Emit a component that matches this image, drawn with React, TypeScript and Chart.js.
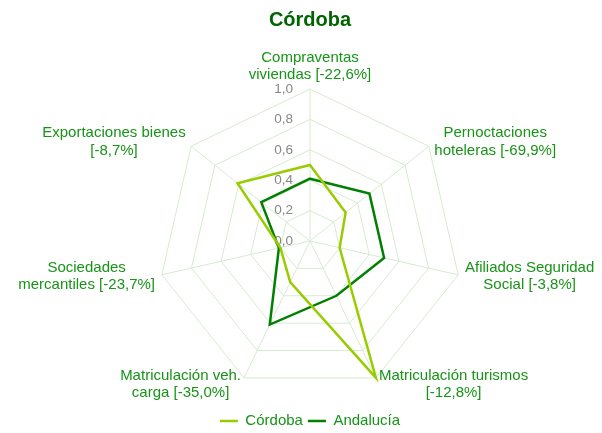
import React, { useEffect, useRef } from 'react';
import { Chart, registerables } from 'chart.js';

Chart.register(...registerables);

// ---- Data ----
const categories: string[][] = [
  ['Compraventas', 'viviendas [-22,6%]'],
  ['Pernoctaciones', 'hoteleras [-69,9%]'],
  ['Afiliados Seguridad', 'Social [-3,8%]'],
  ['Matriculación turismos', '[-12,8%]'],
  ['Matriculación veh.', 'carga [-35,0%]'],
  ['Sociedades', 'mercantiles [-23,7%]'],
  ['Exportaciones bienes', '[-8,7%]'],
];
const cordobaValues = [0.5, 0.3, 0.2, 1.0, 0.3, 0.2, 0.61];
const andaluciaValues = [0.41, 0.5, 0.5, 0.4, 0.61, 0.21, 0.41];
const seriesNames = ['Córdoba', 'Andalucía'];
const chartTitle = 'Córdoba';
const scaleMin = 0;
const scaleMax = 1;
const scaleStep = 0.2;

// ---- Styles ----
const FONT = "'Liberation Sans', Arial, sans-serif";
const LABEL_COLOR = '#179417';
const TITLE_COLOR = '#006400';
const TICK_COLOR = '#878787';
const GRID_COLOR = '#d7ead1';
const CORDOBA_COLOR = '#99cc00';
const ANDALUCIA_COLOR = '#008000';

const formatTick = (v: number) => v.toFixed(1).replace('.', ',');

const customLabels = {
  id: 'customLabels',
  beforeDatasetsDraw(chart: any) {
    const scale = chart.scales.r;
    const ctx = chart.ctx;
    ctx.save();
    ctx.font = `13.5px ${FONT}`;
    ctx.fillStyle = TICK_COLOR;
    ctx.textAlign = 'right';
    ctx.textBaseline = 'middle';
    scale.ticks.forEach((t: any) => {
      const d = scale.getDistanceFromCenterForValue(t.value);
      ctx.fillText(formatTick(t.value), scale.xCenter - 17, scale.yCenter - d);
    });
    ctx.restore();
  },
  afterDraw(chart: any) {
    const scale = chart.scales.r;
    const ctx = chart.ctx;
    ctx.save();
    ctx.font = `15px ${FONT}`;
    ctx.fillStyle = LABEL_COLOR;
    ctx.textAlign = 'center';
    ctx.textBaseline = 'middle';
    const lh = 17.5;
    categories.forEach((lines, i) => {
      const angle = scale.getIndexAngle(i);
      const s = Math.sin(angle);
      const isVertical = Math.abs(s) < 0.01;
      const p = scale.getPointPosition(i, scale.drawingArea + (isVertical ? 5 : 7));
      const w = Math.max(...lines.map((l) => ctx.measureText(l).width));
      const h = lines.length * lh;
      let left: number;
      let top: number;
      if (isVertical) {
        left = p.x - w / 2;
        top = Math.cos(angle) > 0 ? p.y - h : p.y;
      } else if (s > 0) {
        left = p.x;
        top = p.y - h / 2;
      } else {
        left = p.x - w;
        top = p.y - h / 2;
      }
      lines.forEach((l, j) => ctx.fillText(l, left + w / 2, top + lh * (j + 0.5)));
    });
    ctx.restore();
  },
};

export default function App() {
  const canvasRef = useRef<HTMLCanvasElement | null>(null);

  useEffect(() => {
    document.body.style.margin = '0';
    if (!canvasRef.current) return;
    const chart = new Chart(canvasRef.current, {
      type: 'radar',
      data: {
        labels: categories,
        datasets: [
          {
            label: seriesNames[0],
            data: cordobaValues,
            borderColor: CORDOBA_COLOR,
            backgroundColor: 'transparent',
            borderWidth: 2.5,
            pointRadius: 0,
            pointHoverRadius: 0,
            fill: false,
          },
          {
            label: seriesNames[1],
            data: andaluciaValues,
            borderColor: ANDALUCIA_COLOR,
            backgroundColor: 'transparent',
            borderWidth: 2.5,
            pointRadius: 0,
            pointHoverRadius: 0,
            fill: false,
          },
        ],
      },
      plugins: [customLabels],
      options: {
        animation: false,
        responsive: true,
        maintainAspectRatio: false,
        layout: { padding: { left: 157.5, right: 139.5, top: 0, bottom: -5.5 } },
        plugins: {
          title: {
            display: true,
            text: chartTitle,
            color: TITLE_COLOR,
            font: { family: FONT, size: 20, weight: 'bold' },
            padding: { top: 8, bottom: 41.5 },
          },
          legend: {
            display: true,
            position: 'bottom',
            labels: {
              usePointStyle: true,
              pointStyle: 'line',
              pointStyleWidth: 18,
              boxHeight: 15,
              color: LABEL_COLOR,
              font: { family: FONT, size: 15 },
              padding: 5,
            },
          },
          tooltip: { enabled: false },
        },
        scales: {
          r: {
            min: scaleMin,
            max: scaleMax,
            ticks: { stepSize: scaleStep, display: false },
            grid: { color: GRID_COLOR, lineWidth: 1 },
            angleLines: { color: GRID_COLOR, lineWidth: 1 },
            pointLabels: { display: false },
          },
        },
      } as any,
    });
    return () => chart.destroy();
  }, []);

  return (
    <div style={{ position: 'relative', width: 602, height: 433 }}>
      <canvas ref={canvasRef} />
    </div>
  );
}
